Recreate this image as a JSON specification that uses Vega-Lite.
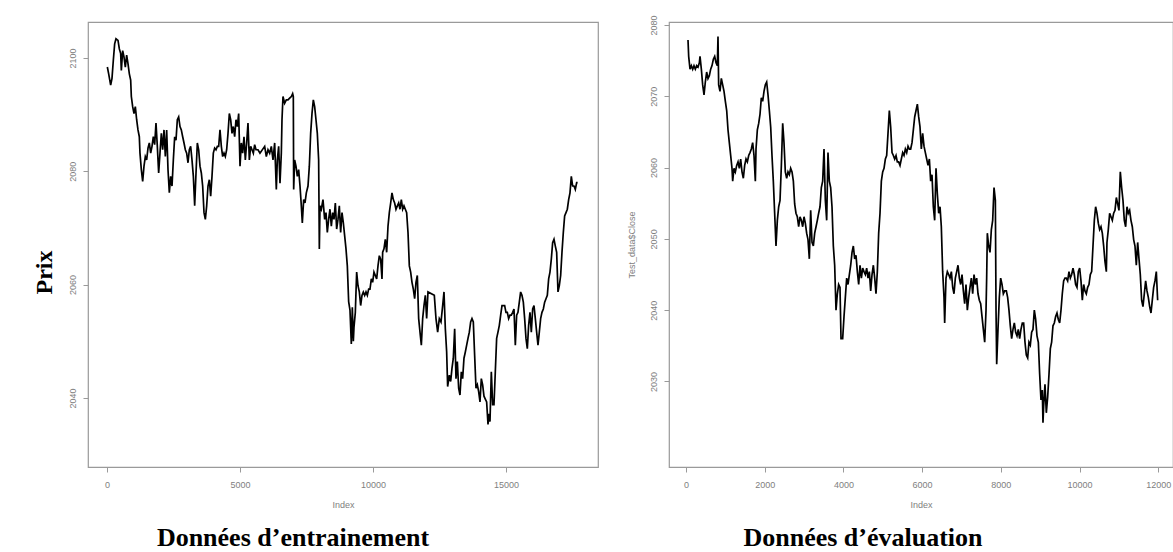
{
  "$schema": "https://vega.github.io/schema/vega-lite/v6.json",
  "padding": {"left": 31, "top": 14, "right": 0, "bottom": 0},
  "background": "white",
  "bounds": "flush",
  "spacing": 71,
  "config": {
    "view": {"stroke": "#9a9a9a", "strokeWidth": 1.2},
    "axis": {
      "grid": false,
      "domain": false,
      "format": "d",
      "tickColor": "#9a9a9a",
      "tickSize": 5,
      "labelFont": "Liberation Sans",
      "labelFontSize": 9,
      "labelColor": "#808080",
      "titleFont": "Liberation Sans",
      "titleFontSize": 9,
      "titleFontWeight": "normal",
      "titleColor": "#808080"
    },
    "axisX": {"labelPadding": 8, "titlePadding": 11},
    "axisY": {"labelAngle": -90, "labelAlign": "center", "labelBaseline": "bottom", "labelPadding": 5.5}
  },
  "datasets": {
    "train": [
      {"i":13,"p":2098.4},{"i":63,"p":2097.2},{"i":138,"p":2095.2},{"i":188,"p":2096.4},{"i":238,"p":2099.6},{"i":288,"p":2102.5},{"i":338,"p":2103.4},{"i":414,"p":2103.1},{"i":464,"p":2101.6},{"i":514,"p":2100.8},{"i":539,"p":2097.8},{"i":589,"p":2101.3},{"i":639,"p":2100.2},{"i":689,"p":2098.4},{"i":739,"p":2100.5},{"i":789,"p":2099.0},{"i":840,"p":2097.2},{"i":890,"p":2096.1},{"i":915,"p":2093.2},{"i":965,"p":2091.4},{"i":1015,"p":2090.2},{"i":1065,"p":2091.4},{"i":1115,"p":2089.1},{"i":1165,"p":2087.3},{"i":1215,"p":2086.1},{"i":1240,"p":2083.2},{"i":1291,"p":2080.3},{"i":1341,"p":2078.2},{"i":1391,"p":2080.9},{"i":1441,"p":2082.6},{"i":1491,"p":2082.0},{"i":1541,"p":2084.1},{"i":1591,"p":2085.0},{"i":1642,"p":2083.2},{"i":1692,"p":2084.4},{"i":1742,"p":2086.1},{"i":1792,"p":2084.7},{"i":1842,"p":2088.5},{"i":1892,"p":2084.4},{"i":1942,"p":2079.7},{"i":1992,"p":2083.2},{"i":2043,"p":2086.7},{"i":2093,"p":2083.8},{"i":2143,"p":2087.3},{"i":2193,"p":2082.6},{"i":2243,"p":2087.3},{"i":2293,"p":2080.3},{"i":2343,"p":2076.2},{"i":2393,"p":2079.1},{"i":2444,"p":2077.4},{"i":2494,"p":2082.0},{"i":2544,"p":2086.1},{"i":2594,"p":2085.5},{"i":2644,"p":2089.1},{"i":2694,"p":2089.6},{"i":2744,"p":2087.9},{"i":2794,"p":2087.3},{"i":2845,"p":2086.1},{"i":2895,"p":2085.0},{"i":2945,"p":2083.8},{"i":2995,"p":2083.2},{"i":3045,"p":2081.5},{"i":3095,"p":2083.8},{"i":3145,"p":2084.4},{"i":3195,"p":2082.0},{"i":3246,"p":2079.1},{"i":3296,"p":2073.9},{"i":3346,"p":2079.7},{"i":3396,"p":2085.0},{"i":3446,"p":2083.8},{"i":3496,"p":2080.9},{"i":3546,"p":2079.7},{"i":3596,"p":2077.4},{"i":3647,"p":2072.7},{"i":3697,"p":2071.5},{"i":3747,"p":2073.9},{"i":3797,"p":2077.4},{"i":3847,"p":2078.5},{"i":3897,"p":2075.6},{"i":3947,"p":2079.1},{"i":3997,"p":2083.2},{"i":4047,"p":2084.1},{"i":4097,"p":2083.8},{"i":4148,"p":2084.4},{"i":4198,"p":2084.4},{"i":4248,"p":2087.3},{"i":4298,"p":2084.4},{"i":4348,"p":2082.6},{"i":4398,"p":2083.2},{"i":4448,"p":2082.6},{"i":4498,"p":2083.8},{"i":4549,"p":2086.7},{"i":4599,"p":2090.2},{"i":4649,"p":2089.1},{"i":4699,"p":2086.7},{"i":4749,"p":2087.9},{"i":4799,"p":2086.1},{"i":4849,"p":2089.1},{"i":4899,"p":2087.9},{"i":4950,"p":2090.2},{"i":5000,"p":2080.9},{"i":5050,"p":2085.0},{"i":5100,"p":2083.2},{"i":5150,"p":2086.1},{"i":5200,"p":2082.0},{"i":5250,"p":2085.0},{"i":5300,"p":2088.5},{"i":5351,"p":2082.0},{"i":5401,"p":2084.4},{"i":5451,"p":2083.8},{"i":5501,"p":2083.2},{"i":5551,"p":2084.7},{"i":5601,"p":2083.8},{"i":5676,"p":2083.8},{"i":5751,"p":2083.2},
      {"i":5927,"p":2084.4},{"i":5989,"p":2082.6},{"i":6052,"p":2083.8},{"i":6115,"p":2083.2},{"i":6177,"p":2084.4},{"i":6240,"p":2082.0},{"i":6303,"p":2085.0},{"i":6365,"p":2076.8},{"i":6403,"p":2082.0},{"i":6453,"p":2084.4},{"i":6503,"p":2077.9},{"i":6553,"p":2083.2},{"i":6578,"p":2089.1},{"i":6616,"p":2093.2},{"i":6678,"p":2092.0},{"i":6741,"p":2092.6},{"i":6804,"p":2092.6},{"i":6866,"p":2092.9},{"i":6929,"p":2093.2},{"i":6979,"p":2093.7},{"i":7004,"p":2093.2},{"i":7017,"p":2076.8},{"i":7054,"p":2082.0},{"i":7104,"p":2080.9},{"i":7155,"p":2079.1},{"i":7205,"p":2080.3},{"i":7255,"p":2077.4},{"i":7305,"p":2073.9},{"i":7342,"p":2070.9},{"i":7393,"p":2075.0},{"i":7443,"p":2074.4},{"i":7493,"p":2076.2},{"i":7556,"p":2077.4},{"i":7606,"p":2080.9},{"i":7656,"p":2086.7},{"i":7706,"p":2090.2},{"i":7756,"p":2092.6},{"i":7806,"p":2091.4},{"i":7856,"p":2089.1},{"i":7906,"p":2086.7},{"i":7956,"p":2082.0},{"i":7982,"p":2066.3},{"i":8007,"p":2073.9},{"i":8057,"p":2073.3},{"i":8119,"p":2075.0},{"i":8182,"p":2071.5},{"i":8232,"p":2072.7},{"i":8282,"p":2069.2},{"i":8332,"p":2071.5},{"i":8382,"p":2073.3},{"i":8433,"p":2070.3},{"i":8483,"p":2072.7},{"i":8533,"p":2071.5},{"i":8583,"p":2074.4},{"i":8633,"p":2069.8},{"i":8683,"p":2071.5},{"i":8733,"p":2073.9},{"i":8783,"p":2069.2},{"i":8834,"p":2072.7},{"i":8884,"p":2070.9},{"i":8934,"p":2068.6},{"i":8984,"p":2066.3},{"i":9034,"p":2063.3},{"i":9084,"p":2057.0},{"i":9134,"p":2055.5},{"i":9184,"p":2049.5},{"i":9222,"p":2056.0},{"i":9260,"p":2050.0},{"i":9285,"p":2052.5},{"i":9335,"p":2055.1},{"i":9385,"p":2062.2},{"i":9435,"p":2059.8},{"i":9485,"p":2058.7},{"i":9535,"p":2056.3},{"i":9585,"p":2058.1},{"i":9635,"p":2058.7},{"i":9686,"p":2058.1},{"i":9736,"p":2058.7},{"i":9786,"p":2058.1},{"i":9836,"p":2059.2},{"i":9886,"p":2059.2},{"i":9936,"p":2061.0},{"i":9986,"p":2060.4},{"i":10036,"p":2062.2},{"i":10087,"p":2061.6},{"i":10137,"p":2061.0},{"i":10187,"p":2063.3},{"i":10237,"p":2065.1},{"i":10287,"p":2064.5},{"i":10337,"p":2061.0},{"i":10362,"p":2065.7},{"i":10412,"p":2066.3},{"i":10462,"p":2068.0},{"i":10513,"p":2065.7},{"i":10563,"p":2070.3},{"i":10613,"p":2072.7},{"i":10663,"p":2074.4},{"i":10713,"p":2076.2},{"i":10763,"p":2075.0},{"i":10813,"p":2074.4},{"i":10863,"p":2073.3},{"i":10914,"p":2073.9},{"i":10964,"p":2074.4},{"i":11014,"p":2073.3},{"i":11064,"p":2075.0},{"i":11114,"p":2073.3},{"i":11164,"p":2073.9},{"i":11214,"p":2073.3},{"i":11264,"p":2072.7},{"i":11315,"p":2069.2},{"i":11365,"p":2063.3},{"i":11415,"p":2062.2},{"i":11465,"p":2060.4},{"i":11515,"p":2059.2},{"i":11565,"p":2057.5},{"i":11615,"p":2060.4},{"i":11665,"p":2061.6},{"i":11716,"p":2054.0},{"i":11766,"p":2051.6},{"i":11816,"p":2049.3},{"i":11866,"p":2054.0},{"i":11916,"p":2056.3},{"i":11966,"p":2058.1},{"i":12016,"p":2054.0},{"i":12066,"p":2058.7},
      {"i":12304,"p":2058.1},{"i":12367,"p":2054.0},{"i":12430,"p":2051.6},{"i":12492,"p":2054.0},{"i":12555,"p":2053.4},{"i":12618,"p":2056.3},{"i":12668,"p":2058.7},{"i":12718,"p":2052.2},{"i":12768,"p":2048.1},{"i":12805,"p":2042.0},{"i":12868,"p":2044.0},{"i":12918,"p":2042.9},{"i":12968,"p":2045.2},{"i":13018,"p":2047.0},{"i":13069,"p":2052.2},{"i":13119,"p":2043.4},{"i":13169,"p":2046.4},{"i":13219,"p":2041.7},{"i":13269,"p":2040.5},{"i":13319,"p":2044.6},{"i":13369,"p":2043.4},{"i":13419,"p":2047.0},{"i":13470,"p":2048.1},{"i":13520,"p":2049.3},{"i":13570,"p":2050.5},{"i":13620,"p":2051.6},{"i":13670,"p":2053.4},{"i":13720,"p":2054.0},{"i":13770,"p":2053.4},{"i":13820,"p":2047.5},{"i":13871,"p":2041.7},{"i":13921,"p":2042.3},{"i":13971,"p":2041.1},{"i":14021,"p":2039.3},{"i":14071,"p":2043.4},{"i":14121,"p":2042.3},{"i":14171,"p":2040.3},{"i":14221,"p":2039.8},{"i":14271,"p":2039.3},{"i":14322,"p":2035.3},{"i":14359,"p":2037.2},{"i":14397,"p":2035.8},{"i":14447,"p":2044.6},{"i":14497,"p":2038.8},{"i":14547,"p":2038.8},{"i":14597,"p":2044.6},{"i":14647,"p":2050.5},{"i":14697,"p":2051.6},{"i":14748,"p":2052.8},{"i":14798,"p":2054.6},{"i":14848,"p":2056.3},{"i":14898,"p":2056.3},{"i":14948,"p":2056.3},{"i":14998,"p":2055.1},{"i":15048,"p":2055.1},{"i":15098,"p":2054.0},{"i":15149,"p":2054.6},{"i":15199,"p":2054.6},{"i":15249,"p":2055.1},{"i":15299,"p":2055.7},{"i":15349,"p":2049.3},{"i":15399,"p":2054.6},{"i":15449,"p":2055.1},{"i":15499,"p":2056.9},{"i":15549,"p":2058.7},{"i":15599,"p":2058.1},{"i":15650,"p":2056.9},{"i":15700,"p":2054.0},{"i":15750,"p":2050.5},{"i":15800,"p":2048.7},{"i":15850,"p":2052.8},{"i":15900,"p":2055.1},{"i":15950,"p":2051.6},{"i":16001,"p":2055.7},{"i":16051,"p":2056.3},{"i":16101,"p":2054.0},{"i":16151,"p":2051.6},{"i":16201,"p":2049.3},{"i":16251,"p":2051.6},{"i":16301,"p":2054.0},{"i":16351,"p":2055.1},{"i":16402,"p":2055.7},{"i":16452,"p":2056.9},{"i":16502,"p":2057.5},{"i":16552,"p":2058.1},{"i":16602,"p":2061.0},{"i":16652,"p":2062.2},{"i":16702,"p":2064.5},{"i":16752,"p":2067.4},{"i":16803,"p":2068.0},{"i":16853,"p":2066.8},{"i":16903,"p":2065.7},{"i":16953,"p":2058.7},{"i":17003,"p":2059.8},{"i":17053,"p":2061.6},{"i":17103,"p":2065.7},{"i":17153,"p":2069.2},{"i":17203,"p":2072.1},{"i":17254,"p":2072.7},{"i":17304,"p":2073.3},{"i":17354,"p":2075.0},{"i":17404,"p":2076.2},{"i":17454,"p":2079.1},{"i":17504,"p":2077.4},{"i":17554,"p":2077.4},{"i":17604,"p":2076.8},{"i":17655,"p":2078.0},{"i":17692,"p":2078.0}
    ],
    "test": [
      {"i":51,"p":2077.9},{"i":68,"p":2075.6},{"i":102,"p":2073.8},{"i":136,"p":2074.3},{"i":170,"p":2073.8},{"i":203,"p":2074.3},{"i":237,"p":2073.8},{"i":271,"p":2074.3},{"i":305,"p":2074.1},{"i":339,"p":2074.7},{"i":356,"p":2075.6},{"i":390,"p":2073.8},{"i":424,"p":2071.6},{"i":458,"p":2070.2},{"i":491,"p":2072.0},{"i":525,"p":2073.4},{"i":559,"p":2072.5},{"i":593,"p":2072.9},{"i":627,"p":2073.8},{"i":661,"p":2074.3},{"i":695,"p":2075.2},{"i":729,"p":2075.6},{"i":763,"p":2074.7},{"i":796,"p":2074.3},{"i":813,"p":2078.4},{"i":830,"p":2071.6},{"i":864,"p":2070.7},{"i":898,"p":2072.5},{"i":932,"p":2071.6},{"i":966,"p":2070.7},{"i":1000,"p":2069.3},{"i":1034,"p":2068.0},{"i":1067,"p":2065.3},{"i":1101,"p":2063.5},{"i":1135,"p":2061.7},{"i":1169,"p":2059.9},{"i":1186,"p":2058.1},{"i":1220,"p":2059.9},{"i":1254,"p":2059.4},{"i":1288,"p":2060.3},{"i":1322,"p":2060.8},{"i":1355,"p":2059.9},{"i":1389,"p":2061.2},{"i":1423,"p":2059.4},{"i":1457,"p":2058.5},{"i":1491,"p":2060.3},{"i":1525,"p":2061.2},{"i":1559,"p":2060.8},{"i":1593,"p":2061.7},{"i":1626,"p":2062.1},{"i":1660,"p":2062.6},{"i":1694,"p":2063.5},{"i":1728,"p":2061.7},{"i":1762,"p":2058.1},{"i":1779,"p":2062.6},{"i":1813,"p":2065.3},{"i":1847,"p":2066.2},{"i":1881,"p":2067.5},{"i":1914,"p":2069.8},{"i":1948,"p":2069.3},{"i":1982,"p":2070.7},{"i":2016,"p":2071.6},{"i":2050,"p":2072.0},{"i":2084,"p":2070.2},{"i":2118,"p":2068.0},{"i":2152,"p":2065.7},{"i":2185,"p":2061.7},{"i":2219,"p":2058.1},{"i":2253,"p":2053.6},{"i":2287,"p":2049.0},{"i":2321,"p":2052.6},{"i":2355,"p":2054.5},{"i":2389,"p":2055.4},{"i":2423,"p":2060.3},{"i":2457,"p":2066.2},{"i":2490,"p":2063.5},{"i":2524,"p":2059.4},{"i":2558,"p":2058.5},{"i":2592,"p":2059.4},{"i":2626,"p":2059.0},{"i":2660,"p":2059.9},{"i":2694,"p":2059.4},{"i":2728,"p":2058.1},{"i":2761,"p":2054.9},{"i":2795,"p":2053.6},{"i":2829,"p":2053.1},{"i":2863,"p":2051.7},{"i":2897,"p":2053.1},{"i":2931,"p":2052.6},{"i":2965,"p":2051.7},{"i":2999,"p":2053.1},{"i":3032,"p":2052.2},{"i":3066,"p":2050.8},{"i":3100,"p":2049.9},{"i":3134,"p":2047.2},{"i":3168,"p":2054.0},{"i":3202,"p":2049.5},{"i":3236,"p":2049.0},{"i":3270,"p":2050.8},{"i":3304,"p":2051.7},{"i":3337,"p":2052.6},{"i":3371,"p":2053.6},{"i":3405,"p":2054.5},{"i":3439,"p":2057.2},{"i":3473,"p":2058.1},{"i":3507,"p":2062.6},{"i":3541,"p":2055.4},{"i":3575,"p":2052.6},{"i":3608,"p":2062.1},{"i":3642,"p":2058.1},{"i":3676,"p":2057.2},{"i":3710,"p":2054.5},{"i":3744,"p":2049.0},{"i":3778,"p":2046.3},{"i":3812,"p":2040.0},{"i":3846,"p":2042.3},{"i":3879,"p":2043.6},{"i":3913,"p":2043.2},{"i":3939,"p":2036.0},
      {"i":3981,"p":2036.0},{"i":4015,"p":2039.1},{"i":4049,"p":2041.8},{"i":4083,"p":2044.5},{"i":4117,"p":2043.6},{"i":4151,"p":2045.0},{"i":4185,"p":2046.3},{"i":4219,"p":2048.1},{"i":4252,"p":2049.0},{"i":4286,"p":2047.2},{"i":4320,"p":2047.7},{"i":4354,"p":2045.4},{"i":4388,"p":2043.6},{"i":4422,"p":2046.3},{"i":4456,"p":2044.5},{"i":4490,"p":2045.9},{"i":4523,"p":2045.4},{"i":4557,"p":2045.0},{"i":4591,"p":2045.9},{"i":4625,"p":2044.5},{"i":4659,"p":2045.4},{"i":4693,"p":2042.7},{"i":4727,"p":2045.0},{"i":4761,"p":2046.3},{"i":4795,"p":2044.5},{"i":4828,"p":2042.3},{"i":4862,"p":2045.4},{"i":4896,"p":2050.8},{"i":4930,"p":2053.6},{"i":4964,"p":2058.1},{"i":4998,"p":2059.4},{"i":5032,"p":2059.9},{"i":5066,"p":2061.2},{"i":5099,"p":2061.7},{"i":5133,"p":2064.8},{"i":5167,"p":2068.0},{"i":5201,"p":2065.7},{"i":5235,"p":2062.1},{"i":5269,"p":2061.7},{"i":5303,"p":2061.2},{"i":5337,"p":2061.7},{"i":5370,"p":2060.8},{"i":5404,"p":2060.8},{"i":5438,"p":2060.3},{"i":5472,"p":2061.2},{"i":5506,"p":2062.1},{"i":5540,"p":2061.7},{"i":5574,"p":2062.6},{"i":5608,"p":2062.1},{"i":5642,"p":2063.0},{"i":5675,"p":2062.6},{"i":5709,"p":2062.6},{"i":5743,"p":2063.5},{"i":5777,"p":2065.3},{"i":5811,"p":2067.1},{"i":5845,"p":2068.0},{"i":5879,"p":2068.9},{"i":5913,"p":2067.1},{"i":5946,"p":2065.7},{"i":5980,"p":2062.6},{"i":6014,"p":2064.8},{"i":6048,"p":2063.0},{"i":6082,"p":2062.1},{"i":6116,"p":2061.2},{"i":6150,"p":2060.3},{"i":6184,"p":2061.2},{"i":6217,"p":2058.1},{"i":6251,"p":2059.0},{"i":6285,"p":2054.5},{"i":6319,"p":2052.6},{"i":6353,"p":2059.9},{"i":6387,"p":2056.3},{"i":6421,"p":2053.6},{"i":6455,"p":2054.5},{"i":6488,"p":2051.7},{"i":6522,"p":2045.4},{"i":6556,"p":2041.8},{"i":6573,"p":2038.2},{"i":6607,"p":2044.5},{"i":6641,"p":2045.4},{"i":6675,"p":2045.0},{"i":6709,"p":2044.5},{"i":6743,"p":2045.4},{"i":6777,"p":2043.2},{"i":6810,"p":2042.3},{"i":6844,"p":2044.5},{"i":6878,"p":2045.4},{"i":6912,"p":2046.3},{"i":6946,"p":2044.5},{"i":6980,"p":2043.6},{"i":7014,"p":2045.0},{"i":7048,"p":2042.7},{"i":7081,"p":2040.9},{"i":7115,"p":2043.6},{"i":7149,"p":2040.0},{"i":7183,"p":2041.8},{"i":7217,"p":2043.2},{"i":7251,"p":2044.5},{"i":7285,"p":2042.3},{"i":7319,"p":2045.0},{"i":7352,"p":2043.6},{"i":7386,"p":2044.5},{"i":7420,"p":2042.3},{"i":7454,"p":2041.4},{"i":7488,"p":2040.9},{"i":7522,"p":2039.1},{"i":7556,"p":2037.3},{"i":7590,"p":2035.5},{"i":7624,"p":2040.0},{"i":7640,"p":2044.5},{"i":7657,"p":2050.8},{"i":7691,"p":2049.0},{"i":7725,"p":2048.1},{"i":7759,"p":2051.3},{"i":7793,"p":2052.6},{"i":7827,"p":2057.2},{"i":7861,"p":2055.4},{"i":7878,"p":2040.0},{"i":7895,"p":2032.4},{"i":7928,"p":2037.3},{"i":7962,"p":2041.8},{"i":7996,"p":2044.5},{"i":8030,"p":2043.6},{"i":8064,"p":2042.3},{"i":8098,"p":2042.7},
      {"i":8140,"p":2042.7},{"i":8173,"p":2041.8},{"i":8207,"p":2040.0},{"i":8241,"p":2037.8},{"i":8275,"p":2036.0},{"i":8309,"p":2037.3},{"i":8343,"p":2038.2},{"i":8377,"p":2036.9},{"i":8411,"p":2036.4},{"i":8444,"p":2037.3},{"i":8478,"p":2036.0},{"i":8512,"p":2037.3},{"i":8546,"p":2038.2},{"i":8580,"p":2038.2},{"i":8614,"p":2035.5},{"i":8648,"p":2033.7},{"i":8682,"p":2033.3},{"i":8715,"p":2035.5},{"i":8749,"p":2035.1},{"i":8783,"p":2036.9},{"i":8817,"p":2037.3},{"i":8851,"p":2040.0},{"i":8885,"p":2038.7},{"i":8919,"p":2036.4},{"i":8953,"p":2035.5},{"i":8987,"p":2031.0},{"i":9020,"p":2027.4},{"i":9054,"p":2028.8},{"i":9071,"p":2024.2},{"i":9088,"p":2026.5},{"i":9122,"p":2029.6},{"i":9156,"p":2025.6},{"i":9190,"p":2027.8},{"i":9224,"p":2031.0},{"i":9258,"p":2034.6},{"i":9291,"p":2035.5},{"i":9325,"p":2037.8},{"i":9359,"p":2038.2},{"i":9393,"p":2039.1},{"i":9427,"p":2039.6},{"i":9461,"p":2038.7},{"i":9495,"p":2038.2},{"i":9529,"p":2040.0},{"i":9562,"p":2042.3},{"i":9596,"p":2044.1},{"i":9630,"p":2044.5},{"i":9664,"p":2044.5},{"i":9698,"p":2044.1},{"i":9732,"p":2045.4},{"i":9766,"p":2044.5},{"i":9800,"p":2045.0},{"i":9834,"p":2045.9},{"i":9867,"p":2045.0},{"i":9901,"p":2043.6},{"i":9935,"p":2043.2},{"i":9969,"p":2045.4},{"i":10003,"p":2045.9},{"i":10037,"p":2044.1},{"i":10071,"p":2041.4},{"i":10105,"p":2043.6},{"i":10138,"p":2042.7},{"i":10172,"p":2042.3},{"i":10206,"p":2043.2},{"i":10240,"p":2043.6},{"i":10274,"p":2045.0},{"i":10308,"p":2045.4},{"i":10342,"p":2049.0},{"i":10376,"p":2052.6},{"i":10409,"p":2054.5},{"i":10443,"p":2053.6},{"i":10477,"p":2052.2},{"i":10511,"p":2051.3},{"i":10545,"p":2051.7},{"i":10579,"p":2050.8},{"i":10613,"p":2049.0},{"i":10647,"p":2046.8},{"i":10681,"p":2045.4},{"i":10697,"p":2049.5},{"i":10731,"p":2051.3},{"i":10765,"p":2053.6},{"i":10799,"p":2053.1},{"i":10833,"p":2052.6},{"i":10867,"p":2053.6},{"i":10901,"p":2054.0},{"i":10935,"p":2055.8},{"i":10969,"p":2054.9},{"i":11002,"p":2054.0},{"i":11036,"p":2059.4},{"i":11070,"p":2057.2},{"i":11104,"p":2055.4},{"i":11138,"p":2052.6},{"i":11172,"p":2051.7},{"i":11206,"p":2054.5},{"i":11240,"p":2053.6},{"i":11273,"p":2054.0},{"i":11307,"p":2052.6},{"i":11341,"p":2051.7},{"i":11375,"p":2049.9},{"i":11409,"p":2049.0},{"i":11443,"p":2046.3},{"i":11477,"p":2049.5},{"i":11511,"p":2047.2},{"i":11544,"p":2045.0},{"i":11578,"p":2041.4},{"i":11612,"p":2040.5},{"i":11646,"p":2042.3},{"i":11680,"p":2044.1},{"i":11714,"p":2042.7},{"i":11748,"p":2041.8},{"i":11782,"p":2040.5},{"i":11816,"p":2039.6},{"i":11849,"p":2041.4},{"i":11883,"p":2043.2},{"i":11917,"p":2044.1},{"i":11951,"p":2045.4},{"i":11985,"p":2041.4}
    ]
  },
  "hconcat": [
    {
      "width": 510,
      "height": 445,
      "data": {"name": "train"},
      "title": {"text": "Données d’entrainement", "orient": "bottom", "anchor": "middle", "font": "Liberation Serif", "fontSize": 26, "fontWeight": "bold", "color": "black", "dx": -50, "offset": 16},
      "mark": {"type": "line", "color": "black", "strokeWidth": 1.7},
      "encoding": {
        "x": {"field": "i", "type": "quantitative", "scale": {"domain": [-714, 18457], "nice": false, "zero": false}, "axis": {"values": [0, 5000, 10000, 15000], "title": "Index"}},
        "y": {"field": "p", "type": "quantitative", "scale": {"domain": [2027.8, 2106.35], "nice": false, "zero": false}, "axis": {"values": [2040, 2060, 2080, 2100], "title": "Prix", "titleFont": "Liberation Serif", "titleFontSize": 24, "titleFontWeight": "bold", "titleColor": "black", "titlePadding": 12, "titleY": 250}}
      }
    },
    {
      "width": 504,
      "height": 445,
      "data": {"name": "test"},
      "title": {"text": "Données d’évaluation", "orient": "bottom", "anchor": "middle", "font": "Liberation Serif", "fontSize": 26, "fontWeight": "bold", "color": "black", "dx": -58, "offset": 16},
      "mark": {"type": "line", "color": "black", "strokeWidth": 1.7},
      "encoding": {
        "x": {"field": "i", "type": "quantitative", "scale": {"domain": [-432, 12375], "nice": false, "zero": false}, "axis": {"values": [0, 2000, 4000, 6000, 8000, 10000, 12000], "title": "Index"}},
        "y": {"field": "p", "type": "quantitative", "scale": {"domain": [2018.0, 2080.42], "nice": false, "zero": false}, "axis": {"values": [2030, 2040, 2050, 2060, 2070, 2080], "title": "Test_data$Close", "titlePadding": 13.5}}
      }
    }
  ]
}
